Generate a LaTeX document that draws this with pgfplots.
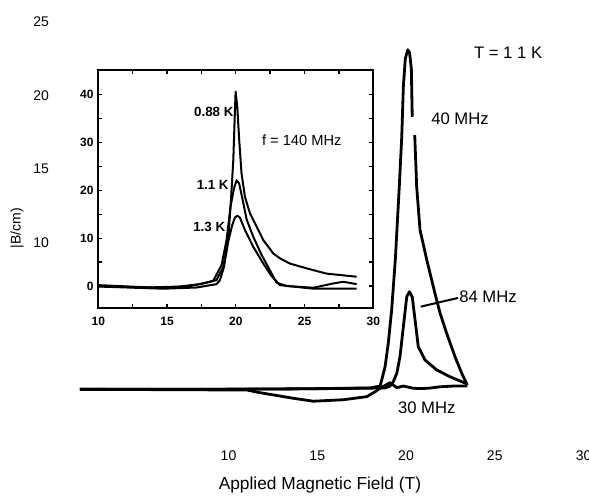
\documentclass[border=0pt]{standalone}
\usepackage{fontspec}
\setmainfont{Liberation Sans}
\usepackage{pgfplots}
\pgfplotsset{compat=1.18}
\pgfplotsset{
    mainline/.style={black, no markers, line width=2.1pt, line join=round},
    insetline/.style={black, no markers, line width=1.5pt, line join=round},
}

\begin{document}
\begin{tikzpicture}
% fixed page: 589 x 497 px at 0.75pt per px
\useasboundingbox (0pt,0pt) rectangle (441.75pt,372.75pt);

% ---- main axes (no frame, only tick labels) ----
\begin{axis}[
    at={(38.25pt,38.25pt)}, anchor=south west,
    scale only axis,
    width=399.4pt, height=318.2pt,
    xmin=0, xmax=30, ymin=-3.8, ymax=25,
    axis line style={draw=none},
    tick style={draw=none},
    xtick={10,15,20,25,30},
    ytick={10,15,20,25},
    /pgf/number format/assume math mode=true,
    tick label style={font=\fontsize{10.5}{12}\selectfont},
    yticklabel style={xshift=2pt},
    clip=false,
]
\addplot[mainline] coordinates {
    (1.63,0.05) (8,0.05) (14,0.08) (17.97,0.14) (18.54,0.27) (18.63,0.68)
    (18.82,1.58) (19.0,3.17) (19.19,5.43) (19.4,8.9) (19.62,13.8)
    (19.76,17.2) (19.85,20.6) (19.96,22.5) (20.1,23.1) (20.2,22.9)
    (20.3,21.8) (20.35,18.55)
};
\addplot[mainline] coordinates {
    (20.49,17.31) (20.6,13.8) (20.79,10.86) (21.17,8.83) (21.63,6.56)
    (21.92,5.21) (22.29,3.85) (22.76,2.26) (23.14,1.13) (23.45,0.34)
};
\addplot[mainline] coordinates {
    (1.63,0.05) (10,0.05) (16,0.1) (18.82,0.14) (19.1,0.27) (19.28,0.56)
    (19.48,1.13) (19.66,2.26) (19.85,4.3) (20.04,6.33) (20.19,6.67)
    (20.35,6.33) (20.51,4.75) (20.69,2.94) (21.07,2.04) (21.73,1.36)
    (22.48,0.9) (23.45,0.41)
};
\addplot[mainline] coordinates {
    (1.63,0.05) (11.03,0) (11.77,-0.18) (13.65,-0.56) (14.78,-0.76)
    (16.47,-0.66) (17.79,-0.45) (18.25,-0.12) (18.54,0.12) (19.1,0.5)
    (19.48,0.16) (19.85,0.27) (20.41,0.12) (20.79,0.1) (21.26,0.12)
    (21.92,0.22) (22.66,0.27) (23.45,0.27)
};
\draw[line width=1.5pt] (axis cs:20.83,5.66) -- (axis cs:22.93,6.25);
\node[font=\fontsize{12.5}{14}\selectfont] at (axis cs:25.75,22.88) {T = 1 1 K};
\node[font=\fontsize{12.5}{14}\selectfont] at (axis cs:23.04,18.4) {40 MHz};
\node[font=\fontsize{12.5}{14}\selectfont] at (axis cs:24.62,6.31) {84 MHz};
\node[font=\fontsize{12.5}{14}\selectfont] at (axis cs:21.17,-1.22) {30 MHz};
\node[font=\fontsize{13}{15}\selectfont] at (axis cs:15.15,-6.45) {Applied Magnetic Field (T)};
\node[font=\fontsize{10.5}{12}\selectfont, rotate=90] at (axis cs:-1.92,11.0) {|B/cm)};
\end{axis}

% ---- inset ----
\begin{axis}[
    at={(73.7pt,141.5pt)}, anchor=south west,
    scale only axis,
    width=206.25pt, height=178.7pt,
    xmin=10, xmax=30, ymin=-4.65, ymax=45.1,
    axis line style={line width=1.5pt},
    tick align=inside, ticks=both,
    major tick length=3pt, minor tick length=3pt,
    tick style={line width=1pt, black},
    xtick={10,15,20,25,30}, minor x tick num=1,
    ytick={0,10,20,30,40}, minor y tick num=1,
    /pgf/number format/assume math mode=true,
    tick label style={font=\fontsize{9}{10}\selectfont\bfseries},
    xticklabel style={yshift=-3pt},
]
% 0.88 K
\addplot[insetline] coordinates {
    (10,0.2) (12.3,-0.1) (14.73,-0.4) (16.67,0) (17.88,0.7) (18.6,1.25)
    (19.09,4.0) (19.45,9.6) (19.65,18.0) (19.82,26.3) (19.94,36.7)
    (19.99,40.6) (20.11,37.4) (20.25,30.5) (20.42,23.5) (20.67,18.6)
    (21.03,15.2) (21.52,12.4) (22.0,9.6) (22.73,6.8) (23.21,5.8)
    (23.94,4.7) (25.15,3.7) (26.6,2.6) (28.79,1.95)
};
% 1.1 K
\addplot[insetline] coordinates {
    (10,0) (13.5,-0.3) (15.9,-0.1) (17.4,0.4) (18.36,1.1) (18.97,4.4)
    (19.33,9.6) (19.62,16.6) (19.87,20.4) (20.06,22.1) (20.25,21.4)
    (20.5,18.0) (20.79,13.9) (21.27,10.3) (21.88,6.5) (22.48,3.3)
    (22.97,0.7) (23.7,0) (25.64,-0.35) (27.1,0.55) (27.82,0.9) (28.79,0.4)
};
% 1.3 K
\addplot[insetline] coordinates {
    (10,-0.1) (14.73,-0.55) (17.15,-0.3) (18.6,0.4) (18.85,1.25)
    (19.14,4.0) (19.45,9.3) (19.74,12.7) (19.94,14.3) (20.11,14.7)
    (20.3,14.3) (20.67,11.7) (21.27,8.2) (22.0,4.7) (22.6,2.1)
    (23.21,0.2) (25.64,-0.55) (28.79,-0.55)
};
\node[font=\fontsize{10}{11}\selectfont\bfseries, anchor=east, inner sep=0pt] at (axis cs:19.85,36.4) {0.88 K};
\node[font=\fontsize{10}{11}\selectfont\bfseries, anchor=east, inner sep=0pt] at (axis cs:19.5,21.1) {1.1 K};
\node[font=\fontsize{10}{11}\selectfont\bfseries, anchor=east, inner sep=0pt] at (axis cs:19.25,12.4) {1.3 K};
\node[font=\fontsize{11}{12}\selectfont] at (axis cs:24.8,30.5) {f = 140 MHz};
\end{axis}
\end{tikzpicture}
\end{document}
